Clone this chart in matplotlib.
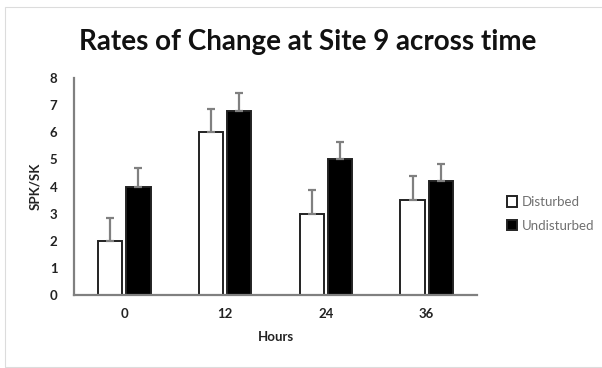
import matplotlib
matplotlib.use("Agg")
import matplotlib.pyplot as plt
import numpy as np
from matplotlib.patches import Rectangle

categories = ["0", "12", "24", "36"]
disturbed = [2.0, 6.0, 3.0, 3.5]
undisturbed = [4.0, 6.8, 5.0, 4.2]
disturbed_err = [0.85, 0.85, 0.87, 0.87]
undisturbed_err = [0.67, 0.65, 0.65, 0.63]

plt.rcParams['font.family'] = ['Lato', 'DejaVu Sans']

fig = plt.figure(figsize=(6.02, 3.68), dpi=100)
fig.patches.append(Rectangle((5/602, 1/368), 1.0, (360)/368, transform=fig.transFigure,
                             fill=False, edgecolor='#dcdcdc', linewidth=0.8))
ax = fig.add_axes([74/602, 73/368, 403/602, 217/368])

x = np.arange(len(categories))
w = 0.24
off = 0.14
ekw = dict(ecolor='#808080', elinewidth=1.6, capsize=3, capthick=1.6)
ax.bar(x - off, disturbed, w, color='white', edgecolor='#222222', linewidth=1.4,
       yerr=[np.zeros(4), disturbed_err], error_kw=ekw, label='Disturbed')
ax.bar(x + off, undisturbed, w, color='black', edgecolor='#222222', linewidth=1.4,
       yerr=[np.zeros(4), undisturbed_err], error_kw=ekw, label='Undisturbed')

ax.set_xlim(-0.5, 3.5)
ax.set_ylim(0, 8)
ax.set_yticks(range(0, 9))
ax.set_xticks(x)
ax.set_xticklabels(categories)
for s in ['top', 'right']:
    ax.spines[s].set_visible(False)
for s in ['left', 'bottom']:
    ax.spines[s].set_color('#808080')
    ax.spines[s].set_linewidth(1.6)
ax.tick_params(length=0, labelsize=9.5, pad=9)
ax.tick_params(axis='y', pad=12)
for lab in ax.get_xticklabels() + ax.get_yticklabels():
    lab.set_fontweight('bold')
    lab.set_color('#222222')

ax.set_xlabel('Hours', fontsize=9.5, fontweight='bold', labelpad=8, color='#222222')
ax.set_ylabel('SPK/SK', fontsize=9.5, fontweight='bold', labelpad=6, color='#222222')
fig.text(308/602, 1 - 42/368, 'Rates of Change at Site 9 across time', ha='center', va='center',
         fontsize=20, fontweight='bold', color='#111111')

leg = fig.legend(loc='center left', bbox_to_anchor=(495/602, 1 - 214/368),
                 frameon=False, fontsize=9.5, handlelength=0.8, handleheight=0.8,
                 handletextpad=0.3, labelspacing=0.9)
for t in leg.get_texts():
    t.set_color('#707070')

fig.savefig('out.png', dpi=100)
